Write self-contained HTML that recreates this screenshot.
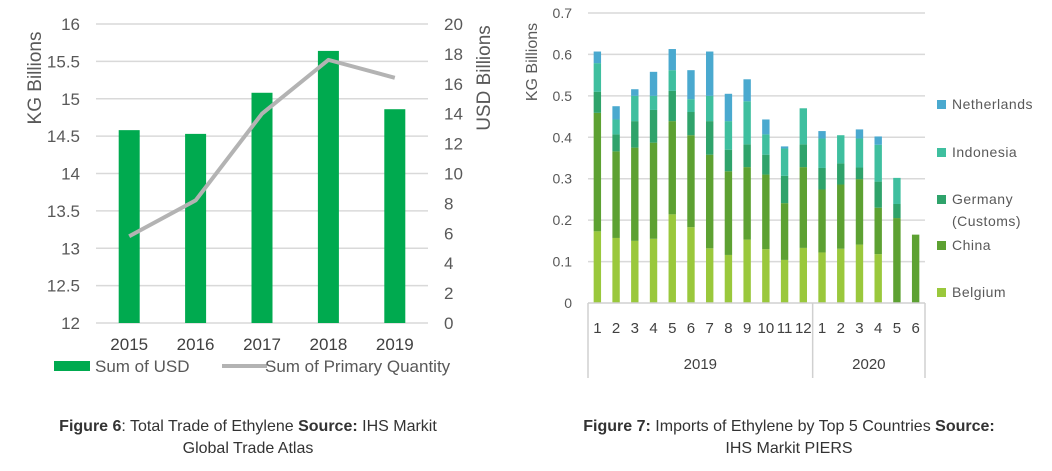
<!DOCTYPE html>
<html><head><meta charset="utf-8"><style>
body{margin:0;background:#fff;width:1052px;height:471px;overflow:hidden;font-family:"Liberation Sans",Arial,sans-serif}
svg{position:absolute;left:0;top:0}
.cap{position:absolute;font-size:16px;color:#333;text-align:center;line-height:22px}
</style></head><body>
<svg id="c" width="1052" height="471"></svg>
<div class="cap" style="left:0;top:416px;width:496px"><b>Figure 6</b>: Total Trade of Ethylene <b>Source:</b> IHS Markit<br>Global Trade Atlas</div>
<div class="cap" style="left:526px;top:416px;width:526px"><b>Figure 7:</b> Imports of Ethylene by Top 5 Countries <b>Source:</b><br>IHS Markit PIERS</div>
<script>
const years=["2015","2016","2017","2018","2019"];
const kgBars=[14.58,14.53,15.08,15.64,14.86];
const usdLine=[5.8,8.2,14.0,17.6,16.4];
const leftTicks=[12,12.5,13,13.5,14,14.5,15,15.5,16];
const rightTicks=[0,2,4,6,8,10,12,14,16,18,20];
const months=["1","2","3","4","5","6","7","8","9","10","11","12","1","2","3","4","5","6"];
const belgium=[.173,.157,.15,.155,.214,.183,.132,.116,.153,.13,.104,.133,.122,.131,.141,.118,0,0];
const china=[.286,.209,.225,.232,.225,.222,.226,.202,.175,.18,.137,.195,.152,.155,.158,.112,.205,.165];
const germany=[.051,.041,.064,.079,.073,.056,.081,.052,.055,.048,.066,.055,.052,.051,.028,.063,.034,0];
const indonesia=[.069,.036,.061,.034,.05,.031,.061,.069,.104,.049,.066,.087,.071,.068,.07,.089,.063,0];
const netherlands=[.028,.032,.016,.058,.051,.07,.107,.066,.053,.036,.005,0,.018,0,.022,.02,0,0];
const imTicks=[0,0.1,0.2,0.3,0.4,0.5,0.6,0.7];

const S=document.getElementById('c');const NS="http://www.w3.org/2000/svg";
function mk(t,a,txt){const e=document.createElementNS(NS,t);for(const k in a)e.setAttribute(k,a[k]);if(txt!==undefined)e.textContent=txt;S.appendChild(e);return e;}

// Left chart
const L0=96,L1=428,ly=v=>323-(v-12)/4*299,ry=v=>323-v/20*299,cw=(L1-L0)/5,cx=i=>L0+cw*(i+0.5);
leftTicks.forEach(t=>{let g=mk('line',{x1:L0,x2:L1,y1:ly(t),y2:ly(t),stroke:'#d9d9d9','stroke-width':1.5});

let e=mk('text',{x:80,y:ly(t)+6,'text-anchor':'end','font-size':17,fill:'#595959'},String(t));
});
rightTicks.forEach(t=>{let e=mk('text',{x:444,y:ry(t)+6,'font-size':17,fill:'#595959'},String(t));
});
kgBars.forEach((v,i)=>{let r=mk('rect',{x:cx(i)-10.5,y:ly(v),width:21,height:323-ly(v),fill:'#00aa4f'});

let t=mk('text',{x:cx(i),y:350,'text-anchor':'middle','font-size':17,fill:'#404040'},years[i]);
});
let pl=mk('polyline',{points:usdLine.map((v,i)=>cx(i)+','+ry(v)).join(' '),fill:'none',stroke:'#b3b3b3','stroke-width':4,'stroke-linejoin':'round'});

let a1=mk('text',{transform:'translate(41,78) rotate(-90)','text-anchor':'middle','font-size':19,fill:'#595959'},'KG Billions');

let a2=mk('text',{transform:'translate(490,78) rotate(-90)','text-anchor':'middle','font-size':19,fill:'#595959'},'USD Billions');

let lg1=mk('rect',{x:54,y:361,width:36,height:10,fill:'#00aa4f'});
let lt1=mk('text',{x:95,y:372,'font-size':17,fill:'#595959'},'Sum of USD');
let lg2=mk('line',{x1:222,x2:267,y1:366,y2:366,stroke:'#b3b3b3','stroke-width':4});
let lt2=mk('text',{x:265,y:372,'font-size':17,fill:'#595959'},'Sum of Primary Quantity');

// Right chart
const R0=588,R1=925,iy=v=>303-v/0.7*290,bw=(R1-R0)/18,bx=i=>R0+bw*(i+0.5);
imTicks.forEach(t=>{if(t>0){let g=mk('line',{x1:R0,x2:R1,y1:iy(t),y2:iy(t),stroke:'#d9d9d9','stroke-width':1.5});
}
let e=mk('text',{x:572,y:iy(t)+5,'text-anchor':'end','font-size':14,fill:'#595959'},String(t));
});
const series=[["belgium",belgium,"#9ac83c"],["china",china,"#5da132"],["germany",germany,"#2fa36b"],["indonesia",indonesia,"#3fbf9f"],["netherlands",netherlands,"#4aa9cf"]];
months.forEach((m,i)=>{let base=0;series.forEach(s=>{const v=s[1][i];if(v>0){let r=mk('rect',{x:bx(i)-3.7,y:iy(base+v),width:7.4,height:iy(base)-iy(base+v),fill:s[2]});
}base+=v;});
let t=mk('text',{x:bx(i),y:333,'text-anchor':'middle','font-size':15,fill:'#404040'},m);
});
let ax=mk('line',{x1:R0,x2:R1,y1:303,y2:303,stroke:'#d0d0d0','stroke-width':1.5});
[R0,R0+bw*12,R1].forEach(x=>{let l=mk('line',{x1:x,x2:x,y1:303,y2:378,stroke:'#d0d0d0','stroke-width':1.5});});
let y1=mk('text',{x:(R0+R0+bw*12)/2,y:369,'text-anchor':'middle','font-size':15,fill:'#404040'},'2019');
let y2=mk('text',{x:(R0+bw*12+R1)/2,y:369,'text-anchor':'middle','font-size':15,fill:'#404040'},'2020');
let a3=mk('text',{transform:'translate(537,62) rotate(-90)','text-anchor':'middle','font-size':16,fill:'#595959'},'KG Billions');

const legY=[[4,109],[3,157],[2,204],[1,250],[0,297]];
legY.forEach(p=>{const s=series[p[0]];let r=mk('rect',{x:937,y:p[1]-9,width:9,height:9,fill:s[2]});
});
[["Netherlands",109],["Indonesia",157],["Germany",204],["(Customs)",226],["China",250],["Belgium",297]].forEach(p=>{
let t=mk('text',{x:952,y:p[1],'font-size':14,fill:'#595959','letter-spacing':'0.5'},p[0]);
});
</script>
</body></html>
